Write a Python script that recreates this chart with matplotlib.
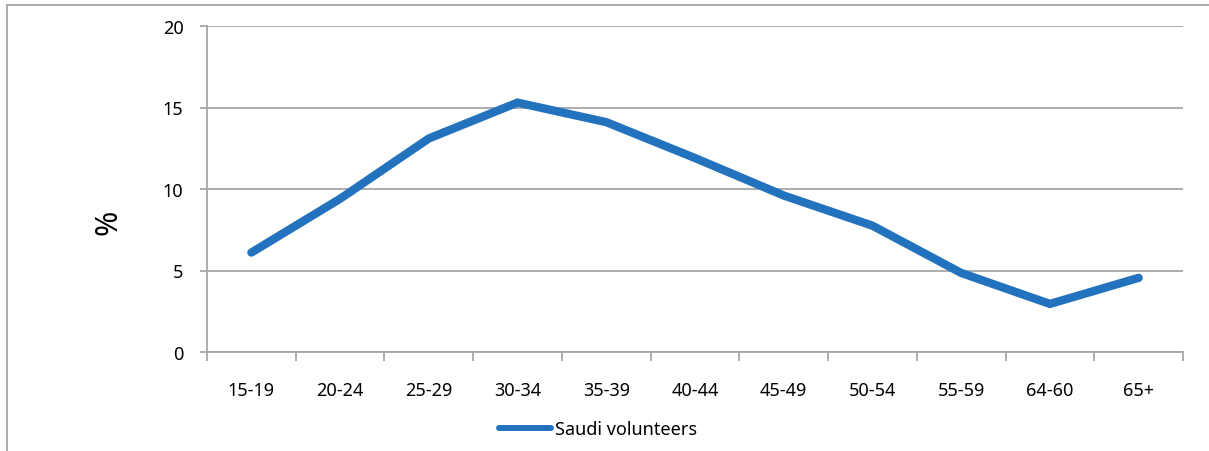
import matplotlib
matplotlib.use("Agg")
import matplotlib.pyplot as plt
from matplotlib.lines import Line2D
from matplotlib.ticker import FixedLocator

plt.rcParams['font.family'] = ['Noto Sans', 'DejaVu Sans']

age_groups = ['15-19', '20-24', '25-29', '30-34', '35-39', '40-44',
              '45-49', '50-54', '55-59', '64-60', '65+']
saudi_volunteers = [6.1, 9.4, 13.1, 15.3, 14.1, 11.9, 9.6, 7.75, 4.85, 2.95, 4.55]
y_ticks = [0, 5, 10, 15, 20]

line_color = '#2372BE'
grid_color = '#A6A6A6'

fig = plt.figure(figsize=(12.09, 4.52), dpi=100)
ax = fig.add_axes([207 / 1209, 1 - 353 / 452, (1183 - 207) / 1209, (353 - 27) / 452])

x = list(range(len(age_groups)))
line, = ax.plot(x, saudi_volunteers, color=line_color, linewidth=6.0,
                solid_capstyle='round', solid_joinstyle='miter', zorder=3,
                label='Saudi volunteers')

ax.set_xlim(-0.5, len(age_groups) - 0.5)
ax.set_ylim(0, 20)
ax.set_yticks(y_ticks)
ax.set_yticklabels([str(v) for v in y_ticks])
ax.set_xticks(x)
ax.set_xticklabels(age_groups)
ax.xaxis.set_minor_locator(FixedLocator([i - 0.5 for i in range(len(age_groups) + 1)]))

ax.grid(axis='y', color=grid_color, linewidth=1.3, zorder=1)
ax.tick_params(axis='y', length=5, width=1.3, color=grid_color, pad=12, labelsize=13)
ax.tick_params(axis='x', which='major', length=0, pad=21, labelsize=13)
ax.tick_params(axis='x', which='minor', length=6.5, width=1.3, color=grid_color)

for side in ['top', 'right']:
    ax.spines[side].set_visible(False)
for side in ['left', 'bottom']:
    ax.spines[side].set_color(grid_color)
    ax.spines[side].set_linewidth(1.3)

fig.text(108 / 1209, 1 - 222 / 452, '%', rotation=90, fontsize=22,
         fontweight='medium', ha='center', va='center')

leg = fig.legend(handles=[line], loc='center',
                 bbox_to_anchor=(598 / 1209, 1 - 430 / 452),
                 frameon=False, fontsize=13, handlelength=2.9, handletextpad=0.25)
leg.get_lines()[0].set_linewidth(4.3)

# outer frame around the figure
fig.add_artist(Line2D([7 / 1209, 1.0], [1 - 6 / 452, 1 - 6 / 452],
                      transform=fig.transFigure, color=grid_color, linewidth=1.3))
fig.add_artist(Line2D([7 / 1209, 7 / 1209], [0.0, 1 - 6 / 452],
                      transform=fig.transFigure, color=grid_color, linewidth=1.3))

fig.savefig('out.png', dpi=100)
